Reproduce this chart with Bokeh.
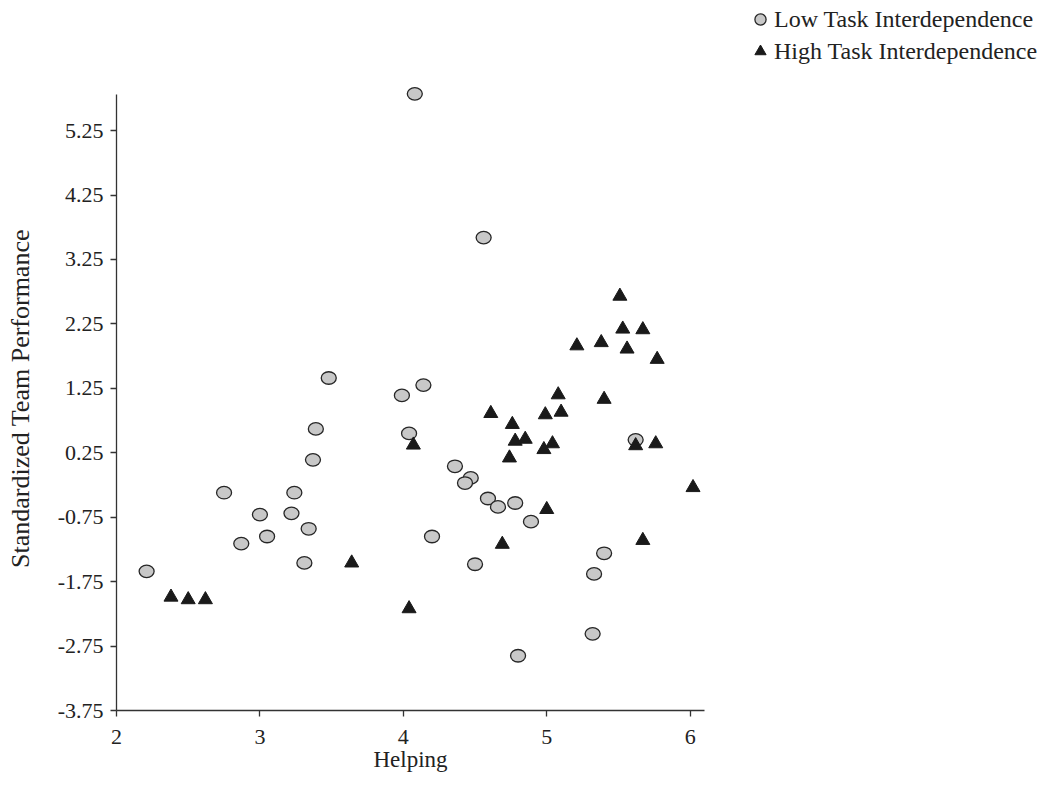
from bokeh.plotting import figure
from bokeh.models import Legend, LegendItem, FixedTicker, ColumnDataSource, Range1d
from bokeh.embed import file_html
from bokeh.resources import INLINE

# ---- data ----
low_helping = [2.21, 2.75, 2.87, 3.00, 3.05, 3.22, 3.24, 3.34, 3.31, 3.37, 3.39, 3.48,
               3.99, 4.14, 4.08, 4.56, 4.04, 4.36, 4.47, 4.43, 4.59, 4.66, 4.78, 4.89,
               4.20, 4.50, 5.40, 5.33, 5.32, 4.80, 5.62]
low_perf = [-1.59, -0.37, -1.16, -0.71, -1.05, -0.69, -0.37, -0.93, -1.46, 0.14, 0.62, 1.41,
            1.14, 1.30, 5.82, 3.59, 0.55, 0.04, -0.14, -0.22, -0.46, -0.59, -0.53, -0.82,
            -1.05, -1.48, -1.31, -1.63, -2.56, -2.90, 0.45]

high_helping = [2.38, 2.50, 2.62, 3.64, 4.04, 4.07, 4.61, 4.76, 4.78, 4.85, 4.74, 4.99,
                5.10, 4.98, 5.04, 5.00, 4.69, 5.62, 5.76, 6.02, 5.67, 5.51, 5.53, 5.67,
                5.21, 5.38, 5.56, 5.77, 5.08, 5.40]
high_perf = [-1.99, -2.03, -2.03, -1.46, -2.17, 0.37, 0.86, 0.69, 0.43, 0.46, 0.17, 0.84,
             0.88, 0.30, 0.39, -0.63, -1.17, 0.36, 0.39, -0.29, -1.11, 2.68, 2.17, 2.16,
             1.91, 1.96, 1.86, 1.70, 1.15, 1.08]

x_ticks = [2, 3, 4, 5, 6]
y_ticks = [-3.75, -2.75, -1.75, -0.75, 0.25, 1.25, 2.25, 3.25, 4.25, 5.25]
y_tick_labels = ["-3.75", "-2.75", "-1.75", "-0.75", "0.25", "1.25", "2.25", "3.25", "4.25", "5.25"]
series_labels = ["Low Task Interdependence", "High Task Interdependence"]
x_title = "Helping"
y_title = "Standardized Team Performance"

FONT = "Liberation Serif"
AX = "#333333"

p = figure(
    output_backend="svg", toolbar_location=None,
    frame_width=588, frame_height=624,
    min_border_left=116, min_border_right=337, min_border_top=86, min_border_bottom=70,
    x_range=Range1d(2, 6.1), y_range=Range1d(-3.75, 5.934),
    title=None,
)
p.outline_line_color = None
p.xgrid.visible = False
p.ygrid.visible = False
p.background_fill_color = "white"
p.border_fill_color = "white"

low_src = ColumnDataSource(dict(x=low_helping, y=low_perf))
high_src = ColumnDataSource(dict(x=high_helping, y=high_perf))

p.ellipse(x="x", y="y", width=15, height=12.5, width_units="screen", height_units="screen",
          source=low_src, fill_color="#c8c8c8", line_color="#262626", line_width=1.3)
r_high = p.scatter(x="x", y="y", marker="triangle", size=14, source=high_src,
                   fill_color="#1a1a1a", line_color="#1a1a1a", line_width=1)

# legend glyph for the circle series (renderer itself hidden; ellipses above show the data)
r_low_leg = p.scatter(x="x", y="y", marker="circle", size=12, source=low_src,
                      fill_color="#c8c8c8", line_color="#262626", line_width=1.3)
r_low_leg.visible = False

legend = Legend(items=[LegendItem(label=series_labels[0], renderers=[r_low_leg]),
                       LegendItem(label=series_labels[1], renderers=[r_high])],
                location=(42, 645), margin=0, padding=0, spacing=4,
                glyph_width=28, glyph_height=28, label_standoff=0,
                label_text_font=FONT, label_text_font_size="24px", label_text_color="#222222",
                border_line_color=None, background_fill_alpha=0,
                inactive_fill_alpha=0, click_policy="none")
p.add_layout(legend, "right")

for ax in (p.xaxis[0], p.yaxis[0]):
    ax.axis_line_color = AX
    ax.axis_line_width = 1.3
    ax.major_tick_line_color = AX
    ax.major_tick_line_width = 1.3
    ax.major_tick_out = 6
    ax.major_tick_in = 0
    ax.minor_tick_line_color = None
    ax.major_label_text_font = FONT
    ax.major_label_text_font_size = "22px"
    ax.major_label_text_color = "#222222"
    ax.axis_label_text_font = FONT
    ax.axis_label_text_font_style = "normal"
    ax.axis_label_text_color = "#222222"

p.xaxis.axis_label_text_font_size = "23px"
p.yaxis.axis_label_text_font_size = "26px"
p.yaxis.bounds = (-3.75, 5.81)
p.xaxis.ticker = FixedTicker(ticks=x_ticks)
p.yaxis.ticker = FixedTicker(ticks=y_ticks)
p.yaxis.major_label_overrides = {t: l for t, l in zip(y_ticks, y_tick_labels)}
p.xaxis.major_label_overrides = {t: str(t) for t in x_ticks}
p.xaxis.axis_label = x_title
p.yaxis.axis_label = y_title
p.xaxis.major_label_standoff = 13
p.yaxis.major_label_standoff = 7
p.xaxis.axis_label_standoff = 0
p.yaxis.axis_label_standoff = 20

open("out.html", "w").write(file_html(p, INLINE))
